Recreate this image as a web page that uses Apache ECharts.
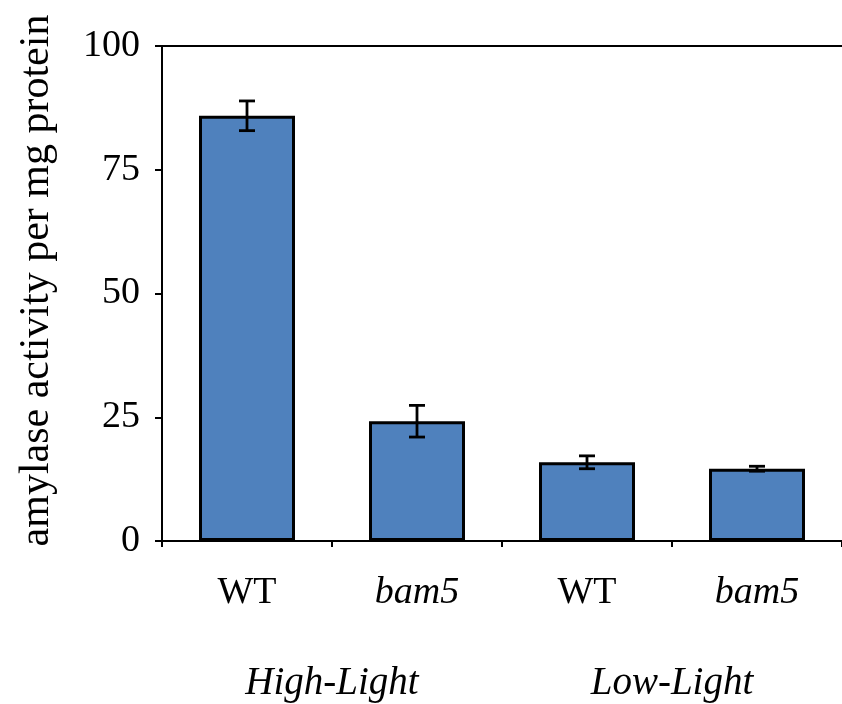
<!DOCTYPE html>
<html>
<head>
<meta charset="utf-8">
<script src="https://cdn.jsdelivr.net/npm/echarts@6/dist/echarts.min.js"></script>
<style>
  html, body { margin: 0; padding: 0; background: #fff; }
  #chart { width: 842px; height: 704px; }
</style>
</head>
<body>
<div id="chart"></div>
<script>
// values
const categories = ['WT', 'bam5', 'WT', 'bam5']
const groups = ['High-Light', 'Low-Light']
const activity = [85.9, 24.2, 15.9, 14.6]
const errors = [3.0, 3.2, 1.3, 0.5]

const font = '"Liberation Serif", "Times New Roman", serif'
const black = '#000'

const errorData = activity.map((v, i) => [i, v - errors[i], v + errors[i]])

const myChart = echarts.init(document.getElementById('chart'))
myChart.setOption({
  animation: false,
  grid: { left: 162, top: 46, width: 688, height: 495 },
  xAxis: [
    {
      type: 'category',
      data: categories.map(c => c === 'bam5' ? { value: c, textStyle: { fontStyle: 'italic' } } : c),
      axisLine: { lineStyle: { color: black, width: 2 } },
      axisTick: { show: true, length: 6, lineStyle: { color: black, width: 2 } },
      axisLabel: { color: black, fontFamily: font, fontSize: 38, margin: 33 }
    },
    {
      // group names under the category labels
      type: 'category',
      position: 'bottom',
      data: groups,
      axisLine: { show: false },
      axisTick: { show: false },
      axisLabel: { color: black, fontFamily: font, fontSize: 39, fontStyle: 'italic', margin: 123 }
    },
    {
      // top border line
      type: 'category',
      position: 'top',
      data: groups,
      axisLine: { lineStyle: { color: black, width: 2 } },
      axisTick: { show: false },
      axisLabel: { show: false }
    }
  ],
  yAxis: {
    type: 'value',
    min: 0,
    max: 100,
    interval: 25,
    name: 'amylase activity per mg protein',
    nameLocation: 'middle',
    nameGap: 104,
    nameRotate: 90,
    nameTextStyle: { color: black, fontFamily: font, fontSize: 42, padding: [0, 0, 0, 26] },
    axisLine: { show: true, lineStyle: { color: black, width: 2 } },
    axisTick: { show: true, length: 7, lineStyle: { color: black, width: 2 } },
    axisLabel: { color: black, fontFamily: font, fontSize: 38, margin: 22 },
    splitLine: { show: false }
  },
  series: [
    {
      type: 'bar',
      data: activity,
      barWidth: 96,
      itemStyle: { color: '#4F81BD', borderColor: black, borderWidth: 3 }
    },
    {
      type: 'custom',
      data: errorData,
      z: 10,
      renderItem: (params, api) => {
        const x = api.value(0)
        const lo = api.coord([x, api.value(1)])
        const hi = api.coord([x, api.value(2)])
        const half = 8
        const style = { stroke: black, lineWidth: 2.8 }
        return {
          type: 'group',
          children: [
            { type: 'line', shape: { x1: lo[0], y1: lo[1], x2: hi[0], y2: hi[1] }, style },
            { type: 'line', shape: { x1: hi[0] - half, y1: hi[1], x2: hi[0] + half, y2: hi[1] }, style },
            { type: 'line', shape: { x1: lo[0] - half, y1: lo[1], x2: lo[0] + half, y2: lo[1] }, style }
          ]
        }
      }
    }
  ]
})
</script>
</body>
</html>
